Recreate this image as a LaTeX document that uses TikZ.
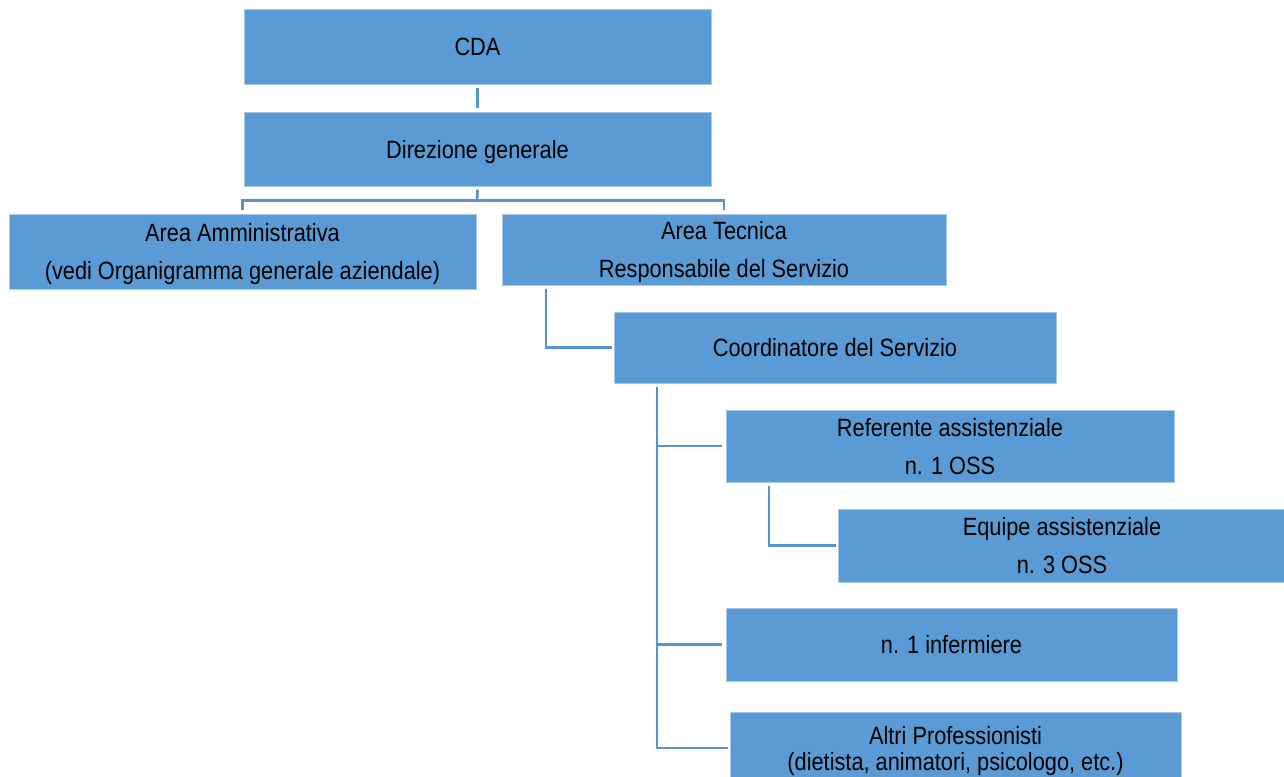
\documentclass[tikz,border=0pt]{standalone}
\usepackage{fontspec}
\setmainfont{Liberation Sans}[FakeStretch=0.87]
\definecolor{boxblue}{RGB}{91,155,213}
\definecolor{lineblue}{RGB}{88,148,205}
\definecolor{boxedge}{RGB}{170,200,232}
\begin{document}
\begin{tikzpicture}[x=0.75pt,y=-0.75pt,
  orgbox/.style={fill=boxblue,draw=boxedge,line width=0.5pt,inner sep=0pt,align=center,text depth=0pt,
    font=\fontsize{18.75}{28.5}\selectfont},
  link/.style={draw=lineblue,line width=2pt}]
\useasboundingbox (0,0) rectangle (1284,776);
\node[orgbox,minimum width={467*0.75pt},minimum height={75*0.75pt}] (cda) at (477.5,46.5) {CDA};
\node[orgbox,minimum width={467*0.75pt},minimum height={74*0.75pt}] (dir) at (477.5,149) {Direzione generale};
\node[orgbox,minimum width={467*0.75pt},minimum height={75*0.75pt}] (amm) at (242.5,251.5) {Area Amministrativa\\(vedi Organigramma generale aziendale)};
\node[orgbox,minimum width={444*0.75pt},minimum height={71*0.75pt}] (tec) at (724,249.5) {Area Tecnica\\Responsabile del Servizio};
\node[orgbox,minimum width={442*0.75pt},minimum height={71*0.75pt}] (coord) at (835,347.5) {Coordinatore del Servizio};
\node[orgbox,minimum width={448*0.75pt},minimum height={72*0.75pt}] (ref) at (950,446) {Referente assistenziale\\n. 1 OSS};
\node[orgbox,minimum width={448*0.75pt},minimum height={73*0.75pt}] (equ) at (1062,545.5) {Equipe assistenziale\\n. 3 OSS};
\node[orgbox,minimum width={451*0.75pt},minimum height={73*0.75pt}] (inf) at (951.5,644.5) {n. 1 infermiere};
\node[orgbox,minimum width={451*0.75pt},minimum height={72*0.75pt},font=\fontsize{18.75}{19.5}\selectfont] (alt) at (955.5,748) {Altri Professionisti\\(dietista, animatori, psicologo, etc.)};
% connectors
\coordinate (bus) at (477,200.5);
\coordinate (tx) at (546,0);
\coordinate (cx) at (657,0);
\coordinate (rx) at (769,0);
\draw[link] ([yshift=-2.5pt]cda.south) -- ([yshift=2.5pt]dir.north);
\draw[link] ([yshift=-2.5pt]dir.south) -- (bus);
\draw[link] ([yshift=2.5pt]amm.north) |- (bus) -| ([yshift=2.5pt]tec.north);
\draw[link] ([yshift=-2.5pt]tec.south -| tx) |- ([xshift=-1.5pt]coord.west);
\draw[link] ([yshift=-2.5pt]coord.south -| cx) |- ([xshift=-1.5pt]alt.west);
\draw[link] (cx |- ref.west) -- ([xshift=-2.5pt]ref.west);
\draw[link] (cx |- inf.west) -- ([xshift=-2.5pt]inf.west);
\draw[link] ([yshift=-2.5pt]ref.south -| rx) |- ([xshift=-1.5pt]equ.west);
\end{tikzpicture}
\end{document}
